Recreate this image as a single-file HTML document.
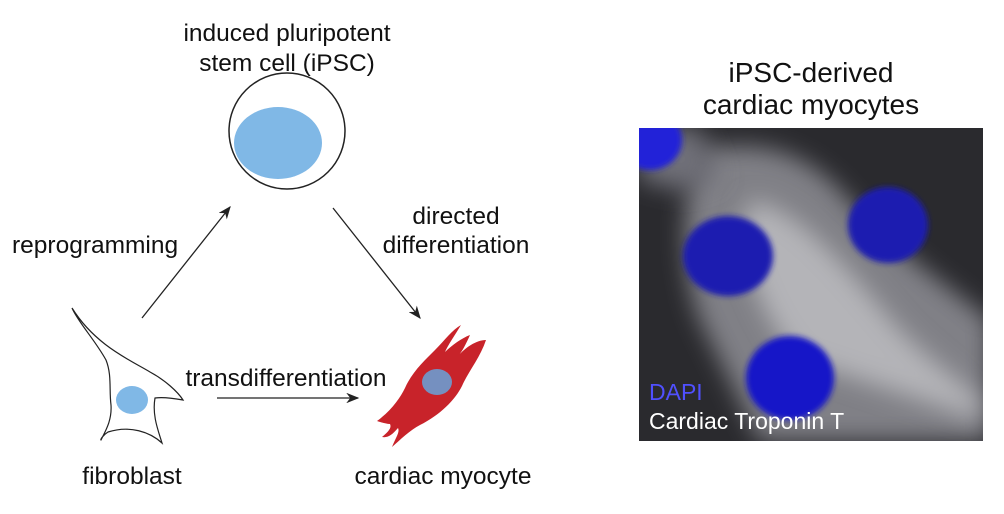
<!DOCTYPE html>
<html><head><meta charset="utf-8"><style>
body{margin:0;background:#fff;width:1004px;height:509px;overflow:hidden}
svg text{font-family:"Liberation Sans",sans-serif;fill:#111}
</style></head><body>
<svg width="1004" height="509" viewBox="0 0 1004 509">
<defs>
<marker id="ah" markerWidth="10" markerHeight="8" refX="9" refY="4" orient="auto"><path d="M0,0 L10,4 L0,8 L3,4z" fill="#222"/></marker>
<filter id="bl" x="-50%" y="-50%" width="200%" height="200%"><feGaussianBlur stdDeviation="3"/></filter>
<filter id="bl2" x="-50%" y="-50%" width="200%" height="200%"><feGaussianBlur stdDeviation="12"/></filter>
<clipPath id="imgclip"><rect x="639" y="128" width="344" height="313"/></clipPath>
</defs>
<text x="287" y="41" font-size="24.5" text-anchor="middle">induced pluripotent</text>
<text x="287" y="71" font-size="24.5" text-anchor="middle">stem cell (iPSC)</text>
<g>
<circle cx="287" cy="131" r="58" fill="#fff" stroke="#222" stroke-width="1.5"/>
<ellipse cx="278" cy="143" rx="44" ry="36" fill="#80b8e6"/>
</g>
<text x="12" y="253" font-size="24.5">reprogramming</text>
<text x="456" y="224" font-size="24.5" text-anchor="middle">directed</text>
<text x="456" y="253" font-size="24.5" text-anchor="middle">differentiation</text>
<text x="286" y="386" font-size="24.5" text-anchor="middle">transdifferentiation</text>
<line x1="142" y1="318" x2="230" y2="207" stroke="#222" stroke-width="1.3" marker-end="url(#ah)"/>
<line x1="333" y1="208" x2="420" y2="318" stroke="#222" stroke-width="1.3" marker-end="url(#ah)"/>
<line x1="217" y1="398" x2="358" y2="398" stroke="#222" stroke-width="1.3" marker-end="url(#ah)"/>
<g>
<path d="M72,308 C95,345 130,360 150,372 C165,380 178,392 183,400 C172,398 162,397 155,398 C152,415 158,430 162,443 C150,432 130,425 108,432 C103,435 100,440 101,440 C106,430 112,420 111,405 C109,390 112,375 106,360 C95,340 78,322 72,308Z" fill="#fff" stroke="#222" stroke-width="1.2"/>
<ellipse cx="132" cy="400" rx="16" ry="14" fill="#80b8e6"/>
</g>
<text x="132" y="484" font-size="24.5" text-anchor="middle">fibroblast</text>
<g>
<path d="M461,325 C455,335 448,345 445,352 C452,345 462,338 470,335 C466,344 462,352 458,356 C465,348 476,340 486,340 C480,358 468,372 462,386 C455,400 440,415 420,425 C410,430 400,440 392,447 C396,437 400,432 398,428 C392,435 388,438 382,437 C388,432 392,428 390,424 C386,424 380,422 377,421 C392,410 400,398 405,388 C412,372 425,360 435,350 C445,340 452,330 461,325Z" fill="#c8232a"/>
<ellipse cx="437" cy="382" rx="15" ry="13" fill="#7590c0"/>
</g>
<text x="443" y="484" font-size="24.5" text-anchor="middle">cardiac myocyte</text>
<text x="811" y="82" font-size="28" text-anchor="middle">iPSC-derived</text>
<text x="811" y="114" font-size="28" text-anchor="middle">cardiac myocytes</text>
<g clip-path="url(#imgclip)">
<rect x="639" y="128" width="344" height="313" fill="#2a2a2e"/>
<path d="M700,150 C760,140 800,150 840,190 C880,240 940,280 990,320 L990,441 L760,441 C740,400 720,360 700,320 C680,270 680,200 700,150Z" fill="#808086" filter="url(#bl2)"/>
<path d="M750,200 C800,210 840,260 900,330 C930,360 960,380 980,400 L980,420 C920,400 860,380 800,360 C770,330 750,280 740,240Z" fill="#b4b4b8" filter="url(#bl2)"/>
<path d="M639,128 L700,128 L720,180 L680,190 L639,180Z" fill="#707078" filter="url(#bl2)"/>
<ellipse cx="650" cy="140" rx="32" ry="30" fill="#2020d8" filter="url(#bl)"/>
<ellipse cx="728" cy="256" rx="45" ry="40" fill="#1a1ab0" filter="url(#bl)"/>
<ellipse cx="888" cy="225" rx="40" ry="38" fill="#1a1ab0" filter="url(#bl)"/>
<ellipse cx="790" cy="378" rx="44" ry="42" fill="#1414c8" filter="url(#bl)"/>
<text x="649" y="400" font-size="23" style="fill:#5050ff">DAPI</text>
<text x="649" y="429" font-size="23" style="fill:#fff">Cardiac Troponin T</text>
</g>
</svg>
</body></html>
